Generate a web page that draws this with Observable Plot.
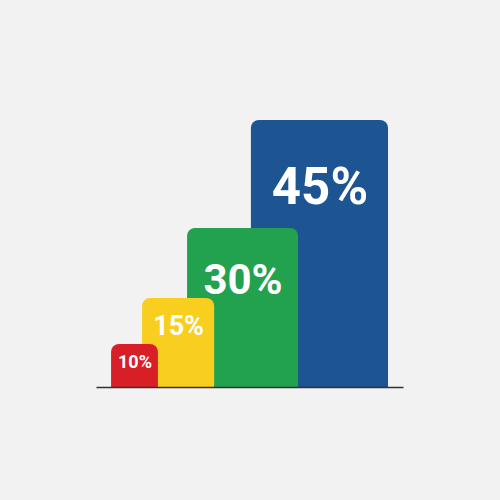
<!DOCTYPE html>
<html>
<head>
<meta charset="utf-8">
<script src="https://cdn.jsdelivr.net/npm/d3@7"></script>
<script src="https://cdn.jsdelivr.net/npm/@observablehq/plot@0.6"></script>
<style>
  html, body { margin: 0; padding: 0; background: #f2f2f2; }
  #chart { width: 500px; height: 500px; }
</style>
</head>
<body>
<div id="chart"></div>
<script>
// Data
const categories = ["A", "B", "C", "D"];
const labels = ["10%", "15%", "30%", "45%"];
const barHeights = [7.25, 15, 26.8, 45];      // visual bar heights (percent units)
const barStart = [4.3, 14.5, 29.3, 50.3];      // bar left edges (0-100 x units)
const barEnd = [19.7, 38.2, 65.8, 95.4];       // bar right edges
const colors = ["#d81e26", "#f8cf1e", "#22a14f", "#1c5591"];

// Label styling
const labelSizes = [18, 27, 42, 51];
const labelDropPx = [18, 28, 52, 67];

const pxPerUnit = 267 / 45;
const rows = categories.map((c, i) => ({
  cat: c, label: labels[i], h: barHeights[i], x1: barStart[i], x2: barEnd[i],
  color: colors[i], size: labelSizes[i], ly: barHeights[i] - labelDropPx[i] / pxPerUnit
}));
const drawOrder = rows.slice().reverse();

const chart = Plot.plot({
  width: 500,
  height: 500,
  marginLeft: 98,
  marginRight: 98,
  marginTop: 120,
  marginBottom: 113,
  style: { background: "#f2f2f2", fontFamily: "Roboto, 'Liberation Sans', sans-serif" },
  x: { domain: [0, 100], axis: null },
  y: { domain: [0, 45], axis: null },
  marks: [
    Plot.rect(drawOrder, {
      x1: "x1", x2: "x2", y1: -3, y2: "h",
      fill: d => d.color, rx: 8, clip: true
    }),
    Plot.ruleY([0], { stroke: "#333", strokeWidth: 1.5, x1: -0.5, x2: 100.5 }),
    Plot.text(rows, {
      x: d => (d.x1 + d.x2) / 2, y: "ly", text: "label",
      fill: "white", fontSize: d => d.size, fontWeight: 700
    })
  ]
});
document.getElementById("chart").appendChild(chart);
</script>
</body>
</html>
